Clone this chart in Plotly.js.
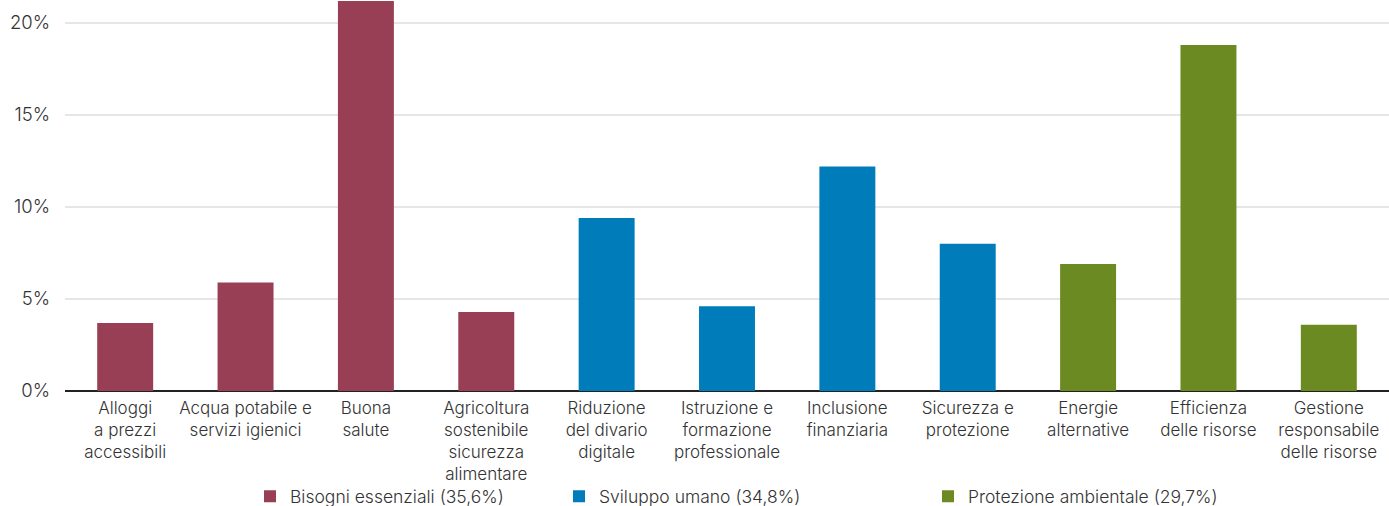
<!DOCTYPE html>
<html>
<head>
<meta charset="utf-8">
<script src="https://cdn.plot.ly/plotly-3.0.1.min.js"></script>
<style>html,body{margin:0;padding:0;background:#fff;}#chart{width:1389px;height:506px;}</style>
</head>
<body>
<div id="chart"></div>
<script>
const catsBisogni = ["Alloggi<br>a prezzi<br>accessibili", "Acqua potabile e<br>servizi igienici", "Buona<br>salute", "Agricoltura<br>sostenibile<br>sicurezza<br>alimentare"];
const valsBisogni = [3.7, 5.9, 21.2, 4.3];
const catsSviluppo = ["Riduzione<br>del divario<br>digitale", "Istruzione e<br>formazione<br>professionale", "Inclusione<br>finanziaria", "Sicurezza e<br>protezione"];
const valsSviluppo = [9.4, 4.6, 12.2, 8.0];
const catsProtezione = ["Energie<br>alternative", "Efficienza<br>delle risorse", "Gestione<br>responsabile<br>delle risorse"];
const valsProtezione = [6.9, 18.8, 3.6];
const seriesNames = ["Bisogni essenziali (35,6%)", "Sviluppo umano (34,8%)", "Protezione ambientale (29,7%)"];
const yTicks = [0, 5, 10, 15, 20];

const colors = ["#983f55", "#007cba", "#6b8a22"];
const font = {family: "Inter, Roboto, sans-serif", size: 17, color: "#333", weight: 300};
const legFont = {family: "Inter, Roboto, sans-serif", size: 17.5, color: "#333", weight: 300};
const yFont = {family: "Inter, Roboto, sans-serif", size: 18.5, color: "#333", weight: 300};

const traces = [
  {type: "bar", x: catsBisogni, y: valsBisogni, name: seriesNames[0], marker: {color: colors[0]}, legend: "legend", hoverinfo: "y"},
  {type: "bar", x: catsSviluppo, y: valsSviluppo, name: seriesNames[1], marker: {color: colors[1]}, legend: "legend2", hoverinfo: "y"},
  {type: "bar", x: catsProtezione, y: valsProtezione, name: seriesNames[2], marker: {color: colors[2]}, legend: "legend3", hoverinfo: "y"}
];

const legendBase = {orientation: "h", yref: "container", xref: "container", yanchor: "middle", xanchor: "left", y: 0.019, font: legFont, bgcolor: "rgba(0,0,0,0)", itemwidth: 30};

const layout = {
  width: 1389, height: 506,
  margin: {l: 65, r: 0, t: 0, b: 114.5},
  paper_bgcolor: "#fff", plot_bgcolor: "#fff",
  font: font,
  barmode: "overlay",
  bargap: 0.535,
  showlegend: true,
  legend: Object.assign({}, legendBase, {x: 250 / 1389}),
  legend2: Object.assign({}, legendBase, {x: 559 / 1389}),
  legend3: Object.assign({}, legendBase, {x: 928 / 1389}),
  xaxis: {
    type: "category",
    showgrid: false, zeroline: false,
    showline: false,
    ticks: "", tickfont: font, tickangle: 0,
    ticklabelstandoff: 5,
    automargin: false
  },
  yaxis: {
    range: [0, 21.25],
    tickvals: yTicks,
    ticktext: yTicks.map(v => v + "%"),
    showgrid: true, gridcolor: "#e6e6e6", gridwidth: 1.5,
    zeroline: true, zerolinecolor: "#222", zerolinewidth: 2.5,
    showline: false, ticks: "",
    ticklabelstandoff: 14,
    tickfont: yFont,
    automargin: false
  }
};

Plotly.newPlot("chart", traces, layout, {displayModeBar: false, staticPlot: true});
</script>
</body>
</html>
